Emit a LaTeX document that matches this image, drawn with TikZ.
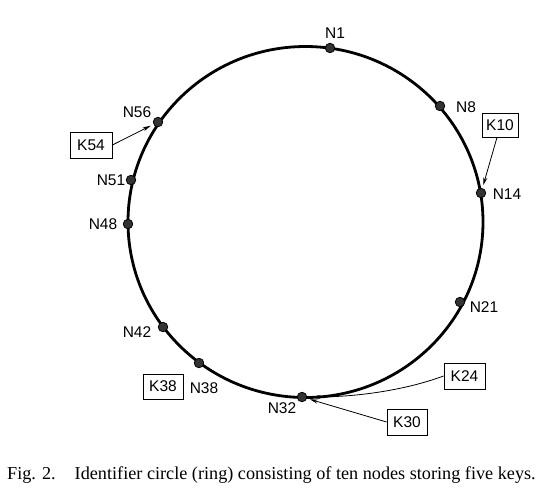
\documentclass[tikz,border=0pt]{standalone}
\usepackage{fontspec}
\setmainfont{Liberation Sans}
\newfontfamily\capfont{Liberation Serif}
\usetikzlibrary{arrows.meta}
\begin{document}
\begin{tikzpicture}[x=1pt,y=-1pt,
  ring/.style={line width=2.8pt},
  dot/.style={circle,draw=black,fill=black!80,line width=0.8pt,minimum size=9.5pt,inner sep=0},
  lab/.style={inner sep=0,font=\fontsize{15.5}{18}\selectfont},
  key/.style={draw,line width=0.8pt,minimum width=40pt,minimum height=25pt,inner sep=0,font=\fontsize{15.5}{18}\selectfont},
  ptr/.style={line width=0.8pt,-{Stealth[length=8pt,width=4pt]},shorten >=3pt}]
\useasboundingbox (0,0) rectangle (556,501);
\draw[ring] (305.5,222) ellipse [x radius=177.5, y radius=175.5];
% nodes on the ring
\node[dot] (n1)  at (330,48) {};
\node[dot] (n8)  at (440,106) {};
\node[dot] (n14) at (481,193) {};
\node[dot] (n21) at (460,302) {};
\node[dot] (n32) at (302,397) {};
\node[dot] (n38) at (199,363) {};
\node[dot] (n42) at (163,327) {};
\node[dot] (n48) at (128,224) {};
\node[dot] (n51) at (131,180) {};
\node[dot] (n56) at (158,122) {};
% labels
\node[lab] (l1)  at (335,33) {N1};
\node[lab] (l8)  at (466,107) {N8};
\node[lab] (l14) at (507,194) {N14};
\node[lab] (l21) at (484,307) {N21};
\node[lab] (l32) at (282,408) {N32};
\node[lab] (l38) at (204,388) {N38};
\node[lab] (l42) at (137,332) {N42};
\node[lab] (l48) at (103,224) {N48};
\node[lab] (l51) at (111,180) {N51};
\node[lab] (l56) at (137,112) {N56};
% keys
\node[key,minimum width=42pt,minimum height=26pt] (k54) at (91,145) {K54};
\node[key,minimum width=36pt,minimum height=24pt] (k10) at (500,125) {K10};
\node[key] (k38) at (163,386.5) {K38};
\node[key,minimum width=41pt,minimum height=26pt] (k24) at (464.5,376) {K24};
\node[key,minimum height=26pt] (k30) at (407,422) {K30};
% pointers
\draw[ptr] (k54.east) -- (n56);
\draw[ptr] (k10.south) ++(-3,0) coordinate (k10s) (k10s) -- (n14);
\draw[ptr,shorten >=5pt] (k24.west) .. controls (400,392) and (350,397) .. (n32.east);
\draw[ptr] (k30.west) -- (n32);
% caption
\node[anchor=base west,inner sep=0,font=\capfont\fontsize{18.2}{21}\selectfont] (cap) at (7,479)
  {Fig. 2.\hspace{19pt}Identifier circle (ring) consisting of ten nodes storing five keys.};
\end{tikzpicture}
\end{document}
